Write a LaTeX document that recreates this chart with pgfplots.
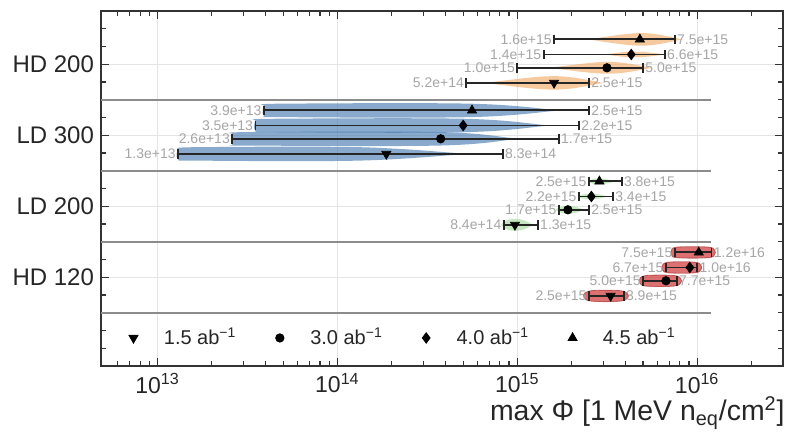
\documentclass[border=0pt]{standalone}
\usepackage{fontspec}
\setmainfont{Liberation Sans}
\usepackage{pgfplots}
\pgfplotsset{compat=1.18}

\definecolor{vorange}{RGB}{240,165,95}
\definecolor{vblue}{RGB}{65,118,175}
\definecolor{vgreen}{RGB}{140,210,130}
\definecolor{vred}{RGB}{210,65,65}
\definecolor{vredd}{RGB}{160,35,35}

\tikzset{lab/.style={font=\fontsize{7}{8}\selectfont, text=black!35, inner sep=1pt}}

\pgfplotsset{
  orangev/.style={forget plot, draw=none, fill=vorange, fill opacity=0.6, smooth, tension=0.6},
  bluev/.style={forget plot, draw=none, fill=vblue, fill opacity=0.62, smooth, tension=0.6},
  greenv/.style={forget plot, draw=none, fill=vgreen, fill opacity=0.5, smooth, tension=0.6},
  redv/.style={forget plot, draw=vredd, draw opacity=0.6, line width=0.4pt, fill=vred, fill opacity=0.75, smooth, tension=0.6},
  mA/.style={mark=triangle*, mark size=2.6pt, mark options={rotate=180}},
  mB/.style={mark=*, mark size=2.1pt},
  mC/.style={mark=diamond*, mark size=2.6pt},
  mD/.style={mark=triangle*, mark size=2.6pt},
  legimg/.style={legend image code/.code={\path (0pt,0pt) (18pt,0pt); \draw[##1] plot coordinates {(5pt,0pt)};}},
}

% violin: style, y, x0, x1, x2, x3, h, h0, h3
\newcommand{\violin}[9]{%
  \pgfmathsetmacro\ua{#2+#8}\pgfmathsetmacro\la{#2-#8}%
  \pgfmathsetmacro\ub{#2+#7}\pgfmathsetmacro\lb{#2-#7}%
  \pgfmathsetmacro\ud{#2+#9}\pgfmathsetmacro\ld{#2-#9}%
  \addplot[#1] coordinates {(#3,\ua) (#4,\ub) (#5,\ub) (#6,\ud) (#6,\ld) (#5,\lb) (#4,\lb) (#3,\la) (#3,\ua)};
}
% row: y, min, max, marker position, marker style, min label, max label
\newcommand{\row}[7]{%
  \addplot[forget plot, black!85, line width=0.95pt, mark=|, mark size=2.4pt, mark options={solid, line width=0.9pt}] coordinates {(#2,#1) (#3,#1)};
  \addplot[forget plot, black, only marks, #5] coordinates {(#4,#1)};
  \node[lab, anchor=east] at (axis cs:#2,#1) {#6};
  \node[lab, anchor=west] at (axis cs:#3,#1) {#7};
}

\begin{document}
\begin{tikzpicture}
\begin{axis}[
  xmode=log, log basis x=10,
  xmin=4.85e12, xmax=3e16, ymin=0, ymax=20,
  scale only axis, width=341pt, height=177.5pt,
  xtick={1e13,1e14,1e15,1e16},
  xticklabels={10\textsuperscript{13},10\textsuperscript{14},10\textsuperscript{15},10\textsuperscript{16}},
  minor xtick={6e12,7e12,8e12,9e12,2e13,3e13,4e13,5e13,6e13,7e13,8e13,9e13,2e14,3e14,4e14,5e14,6e14,7e14,8e14,9e14,2e15,3e15,4e15,5e15,6e15,7e15,8e15,9e15,2e16},
  ytick={5,9,13,17}, yticklabels={HD 120, LD 200, LD 300, HD 200},
  minor ytick={1,2,3,4,6,7,8,10,11,12,14,15,16,18,19},
  tick align=inside, major tick length=4pt, minor tick length=2.5pt,
  grid=major, major grid style={black!10, line width=0.4pt},
  axis line style={line width=1pt, black!80},
  tick style={black!80, line width=0.6pt},
  xticklabel style={font=\fontsize{11.5}{13}\selectfont, text=black!85},
  yticklabel style={font=\fontsize{12}{14}\selectfont, text=black!85},
  xlabel={max Φ [1 MeV n\textsubscript{eq}/cm\textsuperscript{2}]},
  xlabel style={at={(axis description cs:1,0)}, anchor=north east, inner sep=0pt, yshift=-15pt, xshift=1pt, font=\fontsize{14.2}{16}\selectfont, text=black!85},
  legend columns=4,
  legend style={at={(axis cs:6.4e12,1.58)}, anchor=west, draw=none, fill=none, inner sep=0pt,
    font=\fontsize{10}{11}\selectfont, text=black!85,
    /tikz/every even column/.append style={column sep=14.5pt}},
]
\addlegendimage{black, only marks, mA, legimg}\addlegendentry{1.5 ab\textsuperscript{−1}}
\addlegendimage{black, only marks, mB, legimg}\addlegendentry{3.0 ab\textsuperscript{−1}}
\addlegendimage{black, only marks, mC, legimg}\addlegendentry{4.0 ab\textsuperscript{−1}}
\addlegendimage{black, only marks, mD, legimg}\addlegendentry{4.5 ab\textsuperscript{−1}}

% group separators
\addplot[forget plot, black!45, line width=1pt] coordinates {(4.85e12,3) (1.2e16,3)};
\addplot[forget plot, black!45, line width=1pt] coordinates {(4.85e12,7) (1.2e16,7)};
\addplot[forget plot, black!45, line width=1pt] coordinates {(4.85e12,11) (1.2e16,11)};
\addplot[forget plot, black!45, line width=1pt] coordinates {(4.85e12,15) (1.2e16,15)};

% violins: HD 200
\violin{orangev}{18.4}{2.6e15}{4.2e15}{5.6e15}{8.0e15}{0.32}{0.03}{0.03}
\violin{orangev}{17.55}{3.2e15}{4.0e15}{5.0e15}{6.4e15}{0.14}{0.02}{0.02}
\violin{orangev}{16.8}{1.6e15}{2.7e15}{3.7e15}{5.4e15}{0.30}{0.03}{0.03}
\violin{orangev}{15.95}{7.0e14}{1.3e15}{1.9e15}{2.9e15}{0.34}{0.03}{0.03}
% LD 300
\violin{bluev}{14.4}{3.9e13}{5.0e13}{5.4e14}{1.6e15}{0.38}{0.30}{0.03}
\violin{bluev}{13.55}{3.5e13}{4.5e13}{5.0e14}{1.4e15}{0.38}{0.30}{0.03}
\violin{bluev}{12.8}{2.6e13}{3.3e13}{3.7e14}{9.5e14}{0.38}{0.30}{0.03}
\violin{bluev}{11.95}{1.3e13}{1.7e13}{1.3e14}{4.8e14}{0.38}{0.30}{0.03}
% LD 200
\violin{greenv}{10.4}{2.5e15}{2.7e15}{3.0e15}{3.4e15}{0.15}{0.05}{0.03}
\violin{greenv}{9.55}{2.2e15}{2.45e15}{2.7e15}{3.1e15}{0.15}{0.05}{0.03}
\violin{greenv}{8.8}{1.65e15}{1.8e15}{2.05e15}{2.3e15}{0.20}{0.05}{0.03}
\violin{greenv}{7.95}{8.2e14}{9.0e14}{1.05e15}{1.2e15}{0.30}{0.08}{0.05}
% HD 120
\violin{redv}{6.4}{7.2e15}{7.7e15}{1.15e16}{1.25e16}{0.30}{0.12}{0.12}
\violin{redv}{5.55}{6.4e15}{6.9e15}{9.7e15}{1.05e16}{0.30}{0.12}{0.12}
\violin{redv}{4.8}{4.8e15}{5.2e15}{7.4e15}{8.1e15}{0.30}{0.12}{0.12}
\violin{redv}{3.95}{2.35e15}{2.6e15}{3.7e15}{4.1e15}{0.30}{0.12}{0.12}

% whiskers, markers, labels
\row{18.4}{1.6e15}{7.5e15}{4.8e15}{mD}{1.6e+15}{7.5e+15}
\row{17.55}{1.4e15}{6.6e15}{4.3e15}{mC}{1.4e+15}{6.6e+15}
\row{16.8}{1.0e15}{5.0e15}{3.15e15}{mB}{1.0e+15}{5.0e+15}
\row{15.95}{5.2e14}{2.5e15}{1.6e15}{mA}{5.2e+14}{2.5e+15}

\row{14.4}{3.9e13}{2.5e15}{5.6e14}{mD}{3.9e+13}{2.5e+15}
\row{13.55}{3.5e13}{2.2e15}{5.0e14}{mC}{3.5e+13}{2.2e+15}
\row{12.8}{2.6e13}{1.7e15}{3.75e14}{mB}{2.6e+13}{1.7e+15}
\row{11.95}{1.3e13}{8.3e14}{1.87e14}{mA}{1.3e+13}{8.3e+14}

\row{10.4}{2.5e15}{3.8e15}{2.86e15}{mD}{2.5e+15}{3.8e+15}
\row{9.55}{2.2e15}{3.4e15}{2.58e15}{mC}{2.2e+15}{3.4e+15}
\row{8.8}{1.7e15}{2.5e15}{1.91e15}{mB}{1.7e+15}{2.5e+15}
\row{7.95}{8.4e14}{1.3e15}{9.7e14}{mA}{8.4e+14}{1.3e+15}

\row{6.4}{7.5e15}{1.2e16}{1.02e16}{mD}{7.5e+15}{1.2e+16}
\row{5.55}{6.7e15}{1.0e16}{9.1e15}{mC}{6.7e+15}{1.0e+16}
\row{4.8}{5.0e15}{7.7e15}{6.7e15}{mB}{5.0e+15}{7.7e+15}
\row{3.95}{2.5e15}{3.9e15}{3.3e15}{mA}{2.5e+15}{3.9e+15}
\end{axis}
\pgfresetboundingbox
\path ([shift={(-50.5pt,-37.5pt)}]current axis.south west) rectangle ([shift={(2.5pt,5.5pt)}]current axis.north east);
\end{tikzpicture}
\end{document}
